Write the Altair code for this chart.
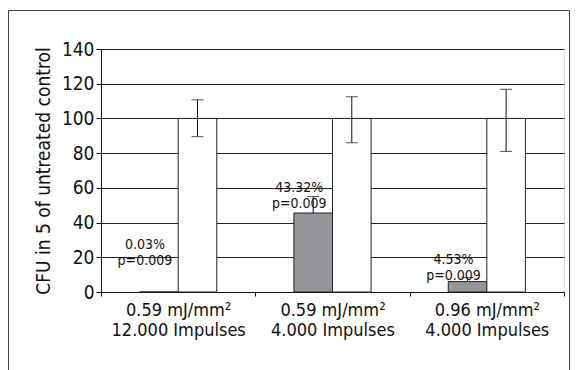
import altair as alt
import pandas as pd

categories = ["0.59 mJ/mm²|12.000 Impulses", "0.59 mJ/mm²|4.000 Impulses", "0.96 mJ/mm²|4.000 Impulses"]
groups = ["treated", "control"]
treated = [0.03, 45.5, 6.0]
treated_err_hi = [None, 55.0, 8.3]
control = [100, 100, 100]
control_err_lo = [89.5, 86.0, 81.0]
control_err_hi = [110.7, 112.5, 116.8]
labels = ["0.03%\np=0.009", "43.32%\np=0.009", "4.53%\np=0.009"]
label_y = [22.8, 55.6, 14.2]
y_ticks = [0, 20, 40, 60, 80, 100, 120, 140]

FONT = "DejaVu Sans Condensed, DejaVu Sans, sans-serif"

rows = []
for i, c in enumerate(categories):
    rows.append({"cat": c, "grp": "treated", "v": treated[i], "hi": treated_err_hi[i], "lo": treated[i] if treated_err_hi[i] is not None else None})
    rows.append({"cat": c, "grp": "control", "v": control[i], "hi": control_err_hi[i], "lo": control_err_lo[i]})
df = pd.DataFrame(rows)
err = df.dropna(subset=["hi"])
err_lo = err[err["grp"] == "control"]
ann = pd.DataFrame({"cat": categories, "grp": "treated", "txt": labels, "ly": label_y})

W, H = 463, 243
PL, PT, PR, PB = 93, 41, 6, 78

x_axis = alt.Axis(labelExpr="split(datum.label, '|')", labelAngle=0, title=None,
                  tickBand="extent", domainColor="#111", tickColor="#111",
                  tickSize=4, labelPadding=5, labelFontSize=18,
                  labelLineHeight=20, labelFont=FONT, labelColor="#111",
                  labelBaseline="top", grid=False)
x_scale = alt.Scale(paddingInner=0, paddingOuter=0)
y_axis = alt.Axis(values=y_ticks, tickSize=5, domainColor="#111", tickColor="#111",
                  gridColor="#222", gridOpacity=1, gridWidth=1, labelOverlap=False,
                  labelFontSize=19, labelFont=FONT, labelColor="#111", labelPadding=2,
                  title="CFU in 5 of untreated control",
                  titleFontSize=19, titleFont=FONT, titleFontWeight="normal",
                  titleColor="#111", titlePadding=8)
y_scale = alt.Scale(domain=[0, 140], nice=False)


def X():
    return alt.X("cat:N", sort=categories, scale=x_scale, axis=x_axis)


def XO():
    return alt.XOffset("grp:N", sort=groups, scale=alt.Scale(paddingInner=0, paddingOuter=1))


def Y(field):
    return alt.Y(field, scale=y_scale, axis=y_axis)


bars = alt.Chart(df).mark_bar(stroke="#222", strokeWidth=1).encode(
    x=X(), xOffset=XO(), y=Y("v:Q"),
    color=alt.Color("grp:N", scale=alt.Scale(domain=groups, range=["#939598", "#ffffff"]), legend=None),
)
stems = alt.Chart(err).mark_rule(color="#111", strokeWidth=1).encode(
    x=X(), xOffset=XO(), y=Y("lo:Q"), y2="hi:Q")
caps_hi = alt.Chart(err).mark_tick(color="#111", thickness=1, size=12).encode(
    x=X(), xOffset=XO(), y=Y("hi:Q"))
caps_lo = alt.Chart(err_lo).mark_tick(color="#111", thickness=1, size=12).encode(
    x=X(), xOffset=XO(), y=Y("lo:Q"))
text = alt.Chart(ann).mark_text(lineBreak="\n", font=FONT, fontSize=14, color="#111",
                                baseline="bottom", align="center", dx=-14, lineHeight=16).encode(
    x=X(), xOffset=XO(), y=Y("ly:Q"), text="txt:N")
frame = alt.Chart(alt.Data(values=[{}])).mark_rect(fill=None, stroke="#444", strokeWidth=1, clip=False).encode(
    x=alt.value(-PL + 0.5), x2=alt.value(W + PR - 0.5),
    y=alt.value(-PT + 2.5), y2=alt.value(H + PB + 10))

chart = alt.layer(frame, bars, stems, caps_hi, caps_lo, text).properties(
    width=W, height=H,
    padding={"left": PL, "top": PT, "right": PR, "bottom": PB},
    autosize=alt.AutoSizeParams(type="none"),
).configure_view(stroke="#111", strokeWidth=1).configure(background="white")

chart.save("out.html", embed_options={"renderer": "svg", "actions": False})
